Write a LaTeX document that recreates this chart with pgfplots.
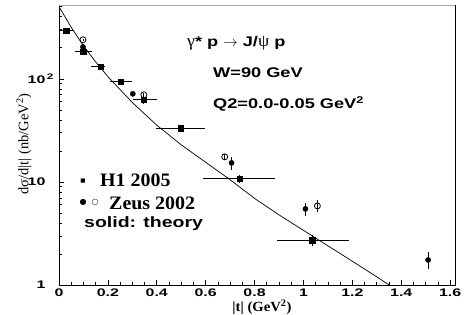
\documentclass[border=0pt]{standalone}
\usepackage{pgfplots}
\pgfplotsset{compat=1.18}
\usepackage{fontspec}
\setmainfont{Liberation Serif}
\newfontfamily\hv{Liberation Sans}[FakeStretch=1.3]
\newfontfamily\hvt{Liberation Sans}[FakeStretch=1.45]
\newfontfamily\tms{Liberation Serif}[FakeStretch=1.05]
\newfontfamily\djv{DejaVu Sans}

\pgfplotstableread{
x y xm xp ey
0.030 292 0.030 0.030 13
0.100 183 0.035 0.035 10
0.170 131 0.040 0.020 6
0.253 93.6 0.045 0.045 5
0.347 62.5 0.045 0.053 5
0.498 33.0 0.100 0.100 2.5
0.739 10.7 0.150 0.146 1.0
1.037 2.73 0.147 0.151 0.35
}\hone

\pgfplotstableread{
x y ey
0.098 204 10
0.302 71.5 3
0.498 33.4 2.5
0.706 15.3 2.2
1.008 5.47 0.8
1.510 1.75 0.33
}\zeusfilled

\pgfplotstableread{
x y ey
0.098 239 6
0.347 70.0 3
0.678 17.5 1.2
1.057 5.85 0.8
}\zeusopen

\pgfplotstableread{
x y
0.00 501
0.05 316
0.10 209
0.15 146
0.20 105
0.30 58.9
0.40 35.5
0.50 22.9
0.60 15.5
0.70 10.5
0.80 6.92
0.90 4.79
1.00 3.39
1.10 2.40
1.20 1.70
1.30 1.20
1.35 1.00
1.40 0.85
}\theory

\begin{document}
\begin{tikzpicture}
\path[use as bounding box] (0,0) rectangle (465pt,315pt);
\begin{axis}[
  at={(59pt,30pt)}, anchor=south west,
  width=396pt, height=280pt, scale only axis,
  xmin=0, xmax=1.62, ymode=log, ymin=1, ymax=520,
  xtick={0,0.2,0.4,0.6,0.8,1,1.2,1.4,1.6},
  xticklabels={0,0.2,0.4,0.6,0.8,1,1.2,1.4,1.6},
  minor x tick num=3,
  ytick={1,10,100},
  yticklabels={1,10,{10\rlap{\raisebox{0.42em}{\fontsize{8}{8}\selectfont\,2}}}},
  minor ytick={2,3,4,5,6,7,8,9,20,30,40,50,60,70,80,90,200,300,400,500},
  tick pos=left, tick align=inside,
  major tick length=5pt, minor tick length=3pt,
  tick style={black, line width=0.6pt},
  axis line style={line width=0.9pt},
  tick label style={font=\hvt\bfseries\fontsize{11}{12}\selectfont},
  xticklabel style={anchor=center, yshift=-8pt},
  yticklabel style={anchor=east, xshift=-10pt},
  clip=true,
]
\addplot[black, line width=0.7pt, no marks] table[x=x,y=y] {\theory};
\addplot[black, only marks, mark=square*, mark size=2.8pt,
  error bars/.cd, x dir=both, x explicit, y dir=both, y explicit,
  error mark=none, error bar style={line width=0.8pt, black}]
  table[x=x, y=y, x error minus=xm, x error plus=xp, y error=ey] {\hone};
\addplot[black, only marks, mark=*, mark size=2.6pt,
  error bars/.cd, y dir=both, y explicit,
  error mark=none, error bar style={line width=0.8pt, black}]
  table[x=x, y=y, y error=ey] {\zeusfilled};
\addplot[black, only marks, mark=o, mark size=3pt, mark options={line width=0.8pt, fill=white},
  error bars/.cd, y dir=both, y explicit,
  error mark=none, error bar style={line width=0.8pt, black}]
  table[x=x, y=y, y error=ey] {\zeusopen};
\draw[gray!70, line width=0.9pt] (rel axis cs:0,1) -- (rel axis cs:1,1);
\end{axis}
\tikzset{every node/.style={inner sep=0pt}}
\node[anchor=west] at (187pt,272pt) {\hv\bfseries\fontsize{14}{16}\selectfont {\tms\mdseries\fontsize{17}{17}\selectfont γ}* p $\rightarrow$ J/{\tms\mdseries\fontsize{17}{17}\selectfont ψ} p};
\node[anchor=west] at (213pt,242pt) {\hv\bfseries\fontsize{14}{16}\selectfont W=90 GeV};
\node[anchor=west] at (213pt,211pt) {\hv\bfseries\fontsize{14}{16}\selectfont Q2=0.0-0.05 GeV\textsuperscript{2}};
\node at (83pt,134pt) {\djv\fontsize{5.5}{6}\selectfont ■};
\node[anchor=west] at (100pt,135pt) {\tms\bfseries\fontsize{19}{20}\selectfont H1 2005};
\node at (83pt,113pt) {\djv\fontsize{8}{8}\selectfont ●};
\node at (95pt,113pt) {\djv\fontsize{8}{8}\selectfont ○};
\node[anchor=west] at (109pt,112pt) {\tms\bfseries\fontsize{19}{20}\selectfont Zeus 2002};
\node[anchor=west] at (84pt,91pt) {\hv\bfseries\fontsize{15}{16}\selectfont solid: theory};
\node[anchor=south] at (262pt,0pt) {\tms\bfseries\fontsize{14}{14}\selectfont |t| (GeV\textsuperscript{2})};
\node[rotate=90] at (24pt,171pt) {\fontsize{14.5}{16}\selectfont dσ/d|t| (nb/GeV\textsuperscript{2})};
\end{tikzpicture}
\end{document}
